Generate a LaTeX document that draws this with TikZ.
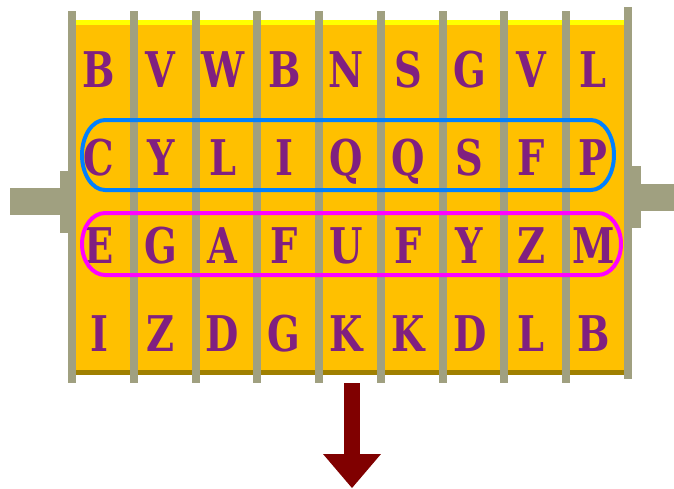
\documentclass[tikz,border=0pt]{standalone}
\usepackage{fontspec}
\newfontfamily\rotorfont{DejaVu Serif}
\usetikzlibrary{arrows.meta}
\definecolor{drum}{HTML}{FFC000}
\definecolor{drumtop}{HTML}{FFFF00}
\definecolor{drumbot}{HTML}{A08000}
\definecolor{rim}{HTML}{A0A080}
\definecolor{glyphcol}{HTML}{802080}
\definecolor{keyline}{HTML}{0080FF}
\definecolor{cipherline}{HTML}{FF00FF}
\definecolor{outarrow}{HTML}{800000}
\tikzset{
  rimbar/.style={fill=rim,draw=none},
  glyph/.style={text=glyphcol,font=\rotorfont\bfseries\fontsize{28}{28}\selectfont,
    anchor=base,inner sep=0pt,xscale=0.78,transform shape},
  band/.style={line width=2.27pt},
  outflow/.style={draw=outarrow,line width=0.32cm,
    -{Triangle[length=0.68cm,width=1.16cm,line width=0pt]}},
}

\begin{document}
\begin{tikzpicture}[x=0.02cm,y=-0.02cm]
  \useasboundingbox (0,0) rectangle (674,488);
  % drum body
  \fill[drum] (76,20) rectangle (624,375);
  \fill[drumtop] (76,20) rectangle (624,25);
  \fill[drumbot] (76,370) rectangle (624,375);
  % axle stubs
  \fill[rimbar] (10,188) rectangle (60,215);
  \fill[rimbar] (60,171) rectangle (68,233);
  \fill[rimbar] (641,184) rectangle (674,211);
  \fill[rimbar] (632,166) rectangle (641,228);
  % ring separators
  \foreach \i in {0,...,8}
    \fill[rimbar] ({68+61.78*\i},11) rectangle ++(8,372);
  \fill[rimbar] (624,7) rectangle (632,379);
  % letters
  \foreach \row [count=\r] in {{B,V,W,B,N,S,G,V,L},{C,Y,L,I,Q,Q,S,F,P},
      {E,G,A,F,U,F,Y,Z,M},{I,Z,D,G,K,K,D,L,B}}
    \foreach \ch [count=\c] in \row
      \node[glyph] (l\r-\c) at ({99+61.78*(\c-1)},{87+88.3*(\r-1)}) {\ch};
  % highlighted rows
  \draw[band,keyline] (105,120) -- (591,120)
    arc[start angle=-90,end angle=90,x radius=23,y radius=35] -- (105,190)
    arc[start angle=90,end angle=270,x radius=23,y radius=35] -- cycle;
  \draw[band,cipherline] (105,213) -- (598,213)
    arc[start angle=-90,end angle=90,x radius=23,y radius=31] -- (105,275)
    arc[start angle=90,end angle=270,x radius=23,y radius=31] -- cycle;
  % output
  \coordinate (spout) at (352,383);
  \coordinate (tip) at (352,488);
  \draw[outflow] (spout) -- (tip);
\end{tikzpicture}
\end{document}
